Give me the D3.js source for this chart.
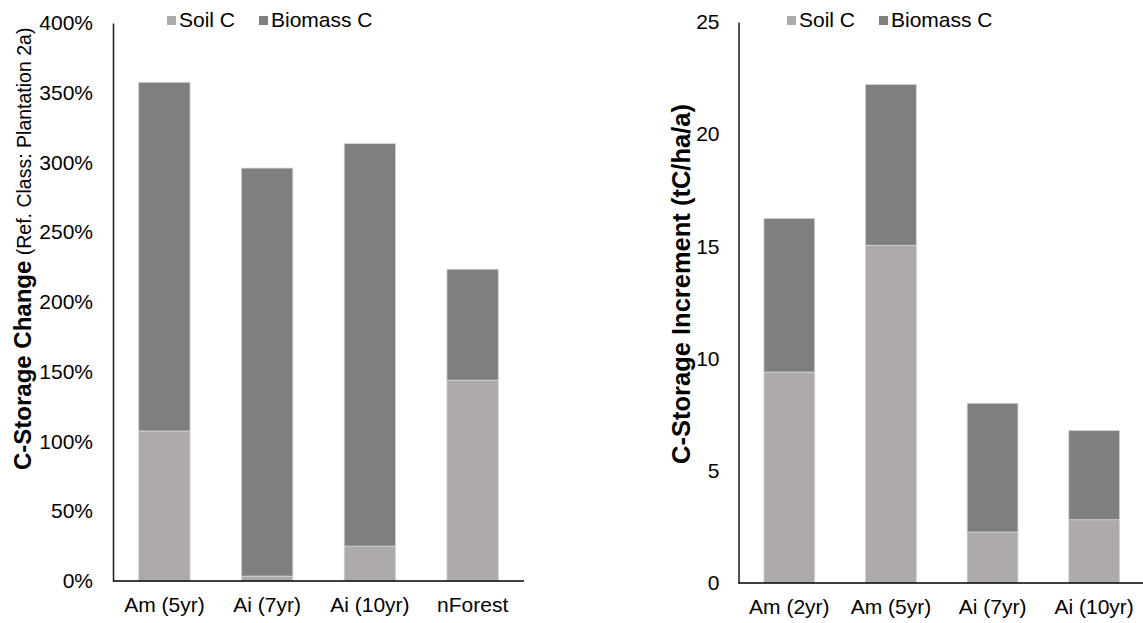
<!DOCTYPE html>
<html>
<head>
<meta charset="utf-8">
<script src="https://cdn.jsdelivr.net/npm/d3@7"></script>
<style>
  html, body { margin: 0; padding: 0; background: #fff; }
  svg { display: block; font-family: "Liberation Sans", Arial, sans-serif; }
</style>
</head>
<body>
<svg id="chart" width="1143" height="623"></svg>
<script>
// ---- Data ----
const seriesNames = ["Soil C", "Biomass C"];
const seriesColors = ["#AEAAAA", "#7F7F7F"];

// Left chart: C-storage change (fraction, 1 = 100%)
const leftCategories = ["Am (5yr)", "Ai (7yr)", "Ai (10yr)", "nForest"];
const leftSoil = [1.075, 0.035, 0.25, 1.44];
const leftBiomass = [2.50, 2.925, 2.885, 0.795];
const leftTicks = [0, 0.5, 1, 1.5, 2, 2.5, 3, 3.5, 4];

// Right chart: C-storage increment (tC/ha/a)
const rightCategories = ["Am (2yr)", "Am (5yr)", "Ai (7yr)", "Ai (10yr)"];
const rightSoil = [9.4, 15.05, 2.27, 2.82];
const rightBiomass = [6.85, 7.17, 5.74, 3.97];
const rightTicks = [0, 5, 10, 15, 20, 25];

const svg = d3.select("#chart");
const FONT = "Liberation Sans, Arial, sans-serif";

function drawPanel(cfg) {
  const g = svg.append("g");
  const x = d3.scaleBand().domain(cfg.categories).range([cfg.x0, cfg.x1])
    .paddingInner(0.5).paddingOuter(0.25);
  const y = d3.scaleLinear().domain(cfg.domain).range([cfg.y0, cfg.y1]);

  const rows = cfg.categories.map((c, i) => ({ cat: c, soil: cfg.soil[i], bio: cfg.bio[i] }));
  const stack = d3.stack().keys(["soil", "bio"])(rows);

  stack.forEach((layer, li) => {
    g.append("g").selectAll("rect").data(layer).join("rect")
      .attr("x", d => x(d.data.cat))
      .attr("width", x.bandwidth())
      .attr("y", d => y(d[1]))
      .attr("height", d => y(d[0]) - y(d[1]))
      .attr("fill", seriesColors[li])
      .attr("stroke", "#d4d4d4")
      .attr("stroke-width", 0.8);
  });

  // y axis
  const yAxis = d3.axisLeft(y).tickValues(cfg.ticks).tickSize(0).tickPadding(cfg.tickPad)
    .tickFormat(cfg.fmt);
  const ya = g.append("g").attr("transform", `translate(${cfg.x0},0)`).call(yAxis);
  ya.select(".domain").attr("stroke", "#1a1a1a").attr("stroke-width", 1.5);
  ya.selectAll("text").attr("font-size", 21).attr("fill", "#000").attr("font-family", FONT);

  // x axis
  const xAxis = d3.axisBottom(x).tickSize(0).tickPadding(16);
  const xa = g.append("g").attr("transform", `translate(0,${cfg.y0})`).call(xAxis);
  xa.select(".domain").attr("stroke", "#000").attr("stroke-width", 1.5)
    .attr("d", `M${cfg.x0},0H${cfg.x1}`);
  xa.selectAll("text").attr("font-size", 21).attr("fill", "#000").attr("font-family", FONT);

  // legend
  const lg = g.append("g");
  seriesNames.forEach((name, i) => {
    const lx = cfg.legendX[i];
    lg.append("rect").attr("x", lx).attr("y", cfg.legendY - 11).attr("width", 9).attr("height", 9)
      .attr("fill", seriesColors[i]);
    lg.append("text").attr("x", lx + 12).attr("y", cfg.legendY).attr("font-size", 21)
      .attr("fill", "#000").text(name);
  });
  return g;
}

drawPanel({
  categories: leftCategories, soil: leftSoil, bio: leftBiomass,
  domain: [0, 4], ticks: leftTicks, fmt: d3.format(".0%"),
  x0: 113, x1: 524, y0: 581, y1: 23, tickPad: 20,
  legendX: [167, 259], legendY: 27
});

drawPanel({
  categories: rightCategories, soil: rightSoil, bio: rightBiomass,
  domain: [0, 25], ticks: rightTicks, fmt: d3.format("d"),
  x0: 738.5, x1: 1145, y0: 583, y1: 22, tickPad: 19,
  legendX: [787, 879], legendY: 27
});

// Axis titles
const lt = svg.append("text")
  .attr("transform", "translate(31,470) rotate(-90)")
  .attr("text-anchor", "start").attr("fill", "#000");
lt.append("tspan").attr("font-weight", "bold").attr("font-size", 24).text("C-Storage Change");
lt.append("tspan").attr("font-size", 19.5).text(" (Ref. Class: Plantation 2a)");

svg.append("text")
  .attr("transform", "translate(690,284) rotate(-90)")
  .attr("text-anchor", "middle").attr("fill", "#000")
  .attr("font-weight", "bold").attr("font-size", 25.5)
  .text("C-Storage Increment (tC/ha/a)");
</script>
</body>
</html>
